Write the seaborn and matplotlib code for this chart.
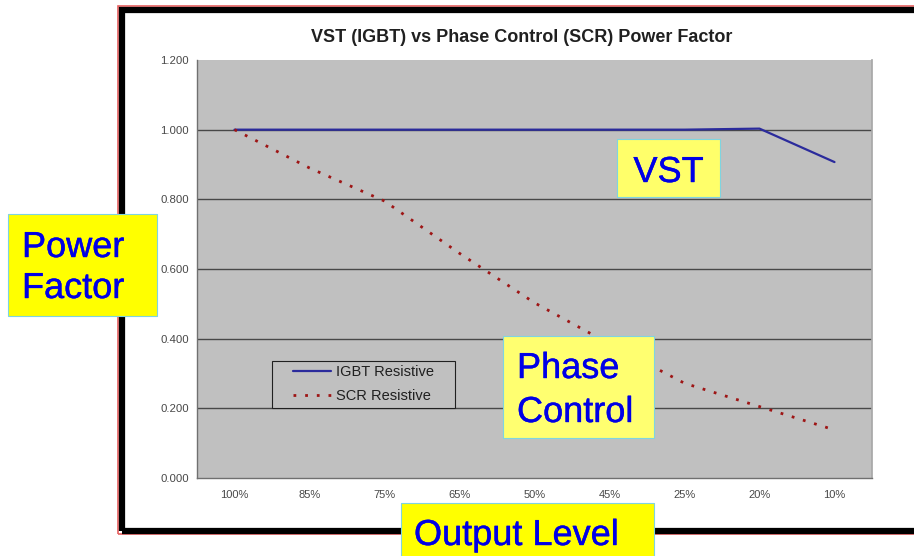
import numpy as np
import pandas as pd
import matplotlib
matplotlib.use("Agg")
import matplotlib.pyplot as plt
import matplotlib.patheffects as pe
from matplotlib.patches import Rectangle
import seaborn as sns

# ------------------------------
# data
# ------------------------------
levels = ['100%', '85%', '75%', '65%', '50%', '45%', '25%', '20%', '10%']
igbt = [1.000, 1.000, 1.000, 1.000, 1.000, 1.000, 1.000, 1.003, 0.907]
scr = [1.000, 0.890, 0.795, 0.645, 0.503, 0.385, 0.272, 0.205, 0.138]
y_ticks = [0.0, 0.2, 0.4, 0.6, 0.8, 1.0, 1.2]

df = pd.DataFrame({'pos': np.arange(len(levels)), 'level': levels,
                   'IGBT Resistive': igbt, 'SCR Resistive': scr})

sns.set_theme(style="white")
plt.rcParams['font.family'] = ['Liberation Sans', 'DejaVu Sans']

W, H = 914, 556
fig = plt.figure(figsize=(W / 100, H / 100), dpi=100)
fig.patch.set_facecolor('white')


def fx(x):
    return x / W


def fy(y):
    return 1 - y / H


def box(x0, y0, x1, y1, **kw):
    r = Rectangle((fx(x0), fy(y1)), fx(x1) - fx(x0), fy(y0) - fy(y1),
                  transform=fig.transFigure, **kw)
    fig.add_artist(r)
    return r


# outer frame (red hairline + thick black border)
box(117.5, 5.5, 980, 534, fill=False, edgecolor='#E86060', linewidth=1.2, zorder=0.5)
box(122, 9.5, 975, 530.5, fill=False, edgecolor='black', linewidth=4.5, zorder=0.6)

ax = fig.add_axes([fx(197), fy(478), fx(872) - fx(197), fy(60) - fy(478)])
ax.set_facecolor('#C0C0C0')

sns.lineplot(data=df, x='pos', y='IGBT Resistive', ax=ax, color='#2B2B9C',
             linewidth=1.6, label='IGBT Resistive')
sns.lineplot(data=df, x='pos', y='SCR Resistive', ax=ax, color='#9E1515',
             linewidth=2.0, linestyle=(0, (1, 3.2)), label='SCR Resistive')

ax.set_xlim(-0.5, len(levels) - 0.5)
ax.set_ylim(0, 1.2)
ax.set_xticks(df['pos'])
ax.set_xticklabels(levels, fontsize=8, color='#484848')
ax.set_xticks(np.arange(len(levels) + 1) - 0.5, minor=True)
ax.tick_params(axis='x', which='major', length=0, pad=9)
ax.tick_params(axis='x', which='minor', length=3, width=0.8, color='#707070', direction='out')
ax.set_yticks(y_ticks)
ax.set_yticklabels([f'{v:.3f}' for v in y_ticks], fontsize=8.2, color='#484848')
ax.tick_params(axis='y', length=3, width=0.8, color='#707070', direction='out', pad=3)
ax.set_xlabel('')
ax.set_ylabel('')

ax.yaxis.grid(True, color='#484848', linewidth=1.0)
ax.set_axisbelow(True)
ax.get_ygridlines()[-1].set_visible(False)
ax.get_ygridlines()[0].set_visible(False)
for side in ['left', 'bottom']:
    ax.spines[side].set_color('#707070')
    ax.spines[side].set_linewidth(1.0)
ax.spines['top'].set_visible(False)
ax.spines['right'].set_color('#A8A8A8')

# legend box drawn by hand so its padding matches the Excel one
leg_frame = Rectangle((fx(272), fy(408)), fx(455) - fx(272), fy(361) - fy(408),
                      transform=fig.transFigure, facecolor='#C0C0C0',
                      edgecolor='#202020', linewidth=0.8, zorder=4)
ax.add_artist(leg_frame)
leg = ax.legend(loc='center', bbox_to_anchor=(fx(363.5), fy(384)),
                bbox_transform=fig.transFigure, fontsize=10.5, frameon=False,
                handlelength=2.6, handletextpad=0.3,
                labelspacing=0.65, borderpad=0.3)
leg.set_zorder(4.5)
for t in leg.get_texts():
    t.set_color('#202020')

fig.text(fx(522), fy(37), 'VST (IGBT) vs Phase Control (SCR) Power Factor',
         ha='center', va='center', fontsize=13, fontweight='bold', color='#202020')

# yellow call-out boxes
blue = '#0000E6'
edge = '#7FD4E0'
thick = [pe.withStroke(linewidth=0.3, foreground=blue)]


def label(x, y, s, **kw):
    fig.text(fx(x), fy(y), s, fontsize=26, color=blue, va='baseline',
             zorder=6, path_effects=thick, **kw)


box(8, 214, 157, 316, facecolor='#FFFF00', edgecolor=edge, linewidth=0.8, zorder=5)
label(22, 257, 'Power')
label(22, 298, 'Factor')

box(617, 139, 720, 197, facecolor='#FFFF6A', edgecolor=edge, linewidth=0.8, zorder=5)
label(668.5, 182, 'VST', ha='center')

box(503, 336, 654, 438, facecolor='#FFFF70', edgecolor=edge, linewidth=0.8, zorder=5)
label(517, 378, 'Phase')
label(517, 422, 'Control')

box(401, 503, 654, 570, facecolor='#FFFF00', edgecolor=edge, linewidth=0.8, zorder=5)
label(414, 545, 'Output Level')

fig.savefig('out.png', dpi=100)
